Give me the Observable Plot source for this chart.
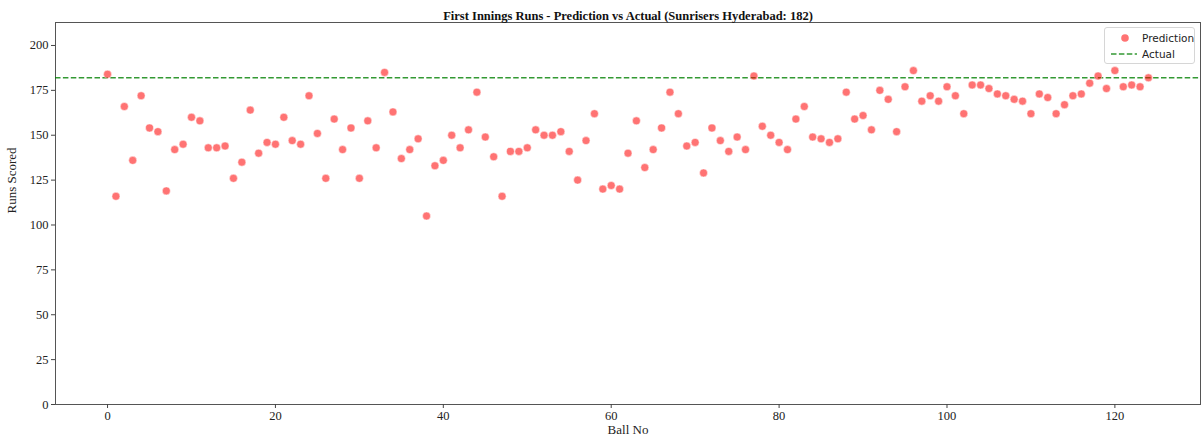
<!DOCTYPE html>
<html>
<head>
<meta charset="utf-8">
<script src="https://cdn.jsdelivr.net/npm/d3@7"></script>
<script src="https://cdn.jsdelivr.net/npm/@observablehq/plot@0.6"></script>
<style>
  html, body { margin: 0; padding: 0; background: #fff; }
  #wrap { position: relative; width: 1203px; height: 441px; }
  #legend { position: absolute; left: 1104px; top: 27px; width: 91px; height: 37px; border: 1px solid #d6d6d6; border-radius: 3px; background: rgba(255,255,255,0.8); font-family: "DejaVu Sans", sans-serif; font-size: 10.5px; color: #222; box-sizing: border-box; }
  #legend .row { position: absolute; left: 0; height: 14px; line-height: 14px; }
  #legend .lbl { position: absolute; left: 37px; white-space: nowrap; }
</style>
</head>
<body>
<div id="wrap">
  <div id="chart"></div>
  <div id="legend">
    <div class="row" style="top:3px;width:88px;"><svg width="30" height="14" style="position:absolute;left:4px;top:0"><circle cx="16" cy="7" r="3.8" fill="red" fill-opacity="0.55"></circle></svg><span class="lbl">Prediction</span></div>
    <div class="row" style="top:19px;width:88px;"><svg width="30" height="14" style="position:absolute;left:4px;top:0"><line x1="2" x2="28" y1="7" y2="7" stroke="green" stroke-opacity="0.8" stroke-width="1.5" stroke-dasharray="5.5,2.4"></line></svg><span class="lbl">Actual</span></div>
  </div>
</div>
<script>
const title = "First Innings Runs - Prediction vs Actual (Sunrisers Hyderabad: 182)";
const xLabel = "Ball No";
const yLabel = "Runs Scored";
const actualRuns = 182;
const xTicks = [0, 20, 40, 60, 80, 100, 120];
const yTicks = [0, 25, 50, 75, 100, 125, 150, 175, 200];
const predictions = [
  184, 116, 166, 136, 172, 154, 152, 119, 142, 145,
  160, 158, 143, 143, 144, 126, 135, 164, 140, 146,
  145, 160, 147, 145, 172, 151, 126, 159, 142, 154,
  126, 158, 143, 185, 163, 137, 142, 148, 105, 133,
  136, 150, 143, 153, 174, 149, 138, 116, 141, 141,
  143, 153, 150, 150, 152, 141, 125, 147, 162, 120,
  122, 120, 140, 158, 132, 142, 154, 174, 162, 144,
  146, 129, 154, 147, 141, 149, 142, 183, 155, 150,
  146, 142, 159, 166, 149, 148, 146, 148, 174, 159,
  161, 153, 175, 170, 152, 177, 186, 169, 172, 169,
  177, 172, 162, 178, 178, 176, 173, 172, 170, 169,
  162, 173, 171, 162, 167, 172, 173, 179, 183, 176,
  186, 177, 178, 177, 182
];
const balls = predictions.map((_, i) => i);
const data = balls.map((b, i) => ({ball: b, runs: predictions[i]}));

const plot = Plot.plot({
  width: 1203,
  height: 441,
  marginLeft: 55,
  marginRight: 3,
  marginTop: 22,
  marginBottom: 37,
  style: { fontFamily: "'Liberation Serif', 'Times New Roman', serif", fontSize: "12px", color: "#222", background: "#fff" },
  x: { domain: [-6.2, 130.2], label: null },
  y: { domain: [0, 212.8], label: null },
  marks: [
    Plot.frame({ stroke: "#555", strokeWidth: 1 }),
    Plot.axisX({ ticks: xTicks, tickSize: 4, tickPadding: 3, label: null, fontSize: 12.5, stroke: "#444", tickFormat: d => d }),
    Plot.axisY({ ticks: yTicks, tickSize: 4, tickPadding: 3, label: null, fontSize: 12.5, stroke: "#444" }),
    Plot.ruleY([actualRuns], { stroke: "green", strokeOpacity: 0.8, strokeWidth: 1.5, strokeDasharray: "5.5,2.4" }),
    Plot.dot(data, { x: "ball", y: "runs", r: 4, fill: "red", fillOpacity: 0.55, stroke: "white", strokeWidth: 0.6, strokeOpacity: 0.8 }),
    Plot.text([title], { frameAnchor: "top", dy: -11, fontWeight: "bold", fontSize: 12.5, fill: "#111" }),
    Plot.text([xLabel], { frameAnchor: "bottom", dy: 29, fontSize: 13, fill: "#222" }),
    Plot.text([yLabel], { frameAnchor: "left", dx: -44, rotate: -90, fontSize: 13, fill: "#222" })
  ]
});
document.getElementById("chart").appendChild(plot);
</script>
</body>
</html>
